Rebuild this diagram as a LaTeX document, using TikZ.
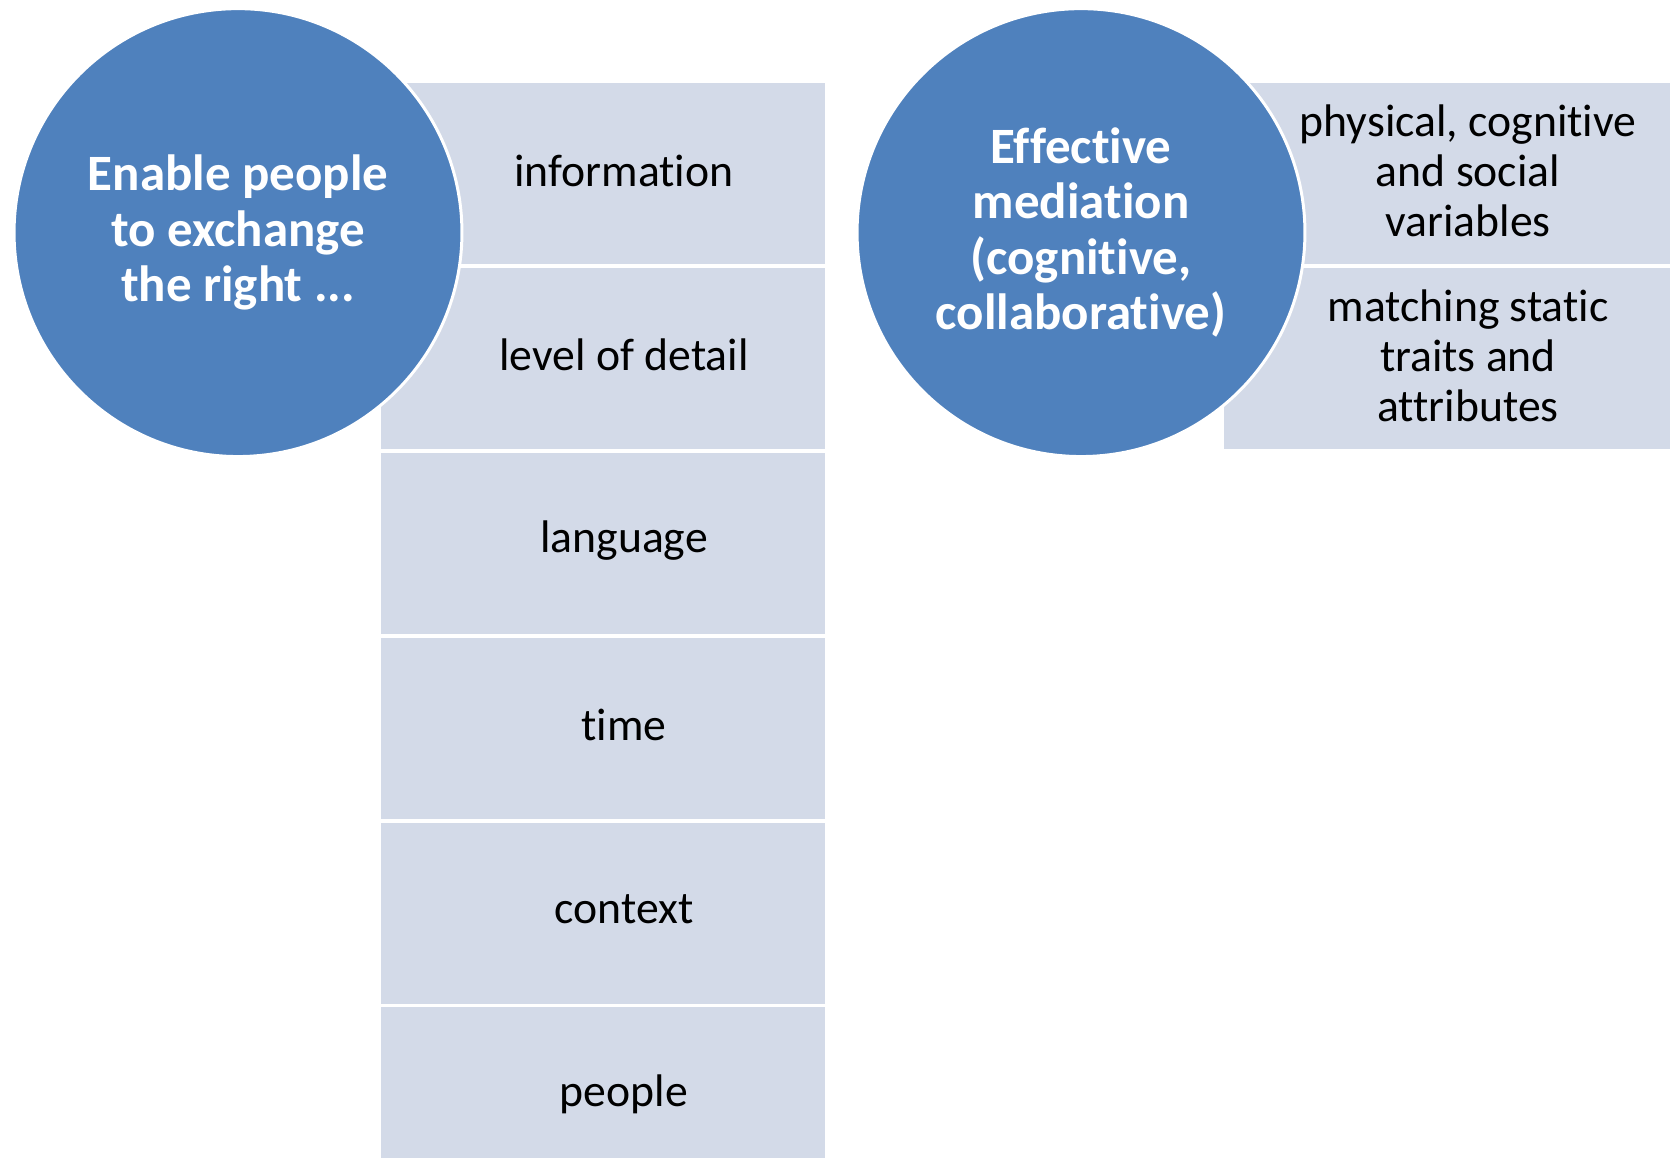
\documentclass[tikz,border=0pt]{standalone}
\usepackage{fontspec}
\setmainfont[Renderer=HarfBuzz,RawFeature={-liga;-clig;-dlig;-calt;-rlig}]{Carlito}
\usetikzlibrary{positioning}
\definecolor{hubblue}{HTML}{4F81BD}
\definecolor{cellpale}{HTML}{D3DAE8}

\begin{document}
\begin{tikzpicture}[x=0.02cm, y=-0.02cm,
  hub/.style={circle, fill=hubblue, draw=white, line width=1.7pt, minimum size=8.96cm, inner sep=0pt, align=center, text=white, font=\fontsize{29}{31.6}\selectfont\bfseries},
  cell/.style={rectangle, fill=cellpale, minimum width=8.88cm, minimum height=3.62cm, inner sep=0pt, anchor=north west},
  cellw/.style={cell, minimum width=8.92cm},
  txt/.style={align=center, font=\fontsize{26}{28.5}\selectfont},
]
  \useasboundingbox (0,0) rectangle (1673,1158);

  % left column
  \node[cell] (info)   at (381,83)    {};
  \node[cell] (detail) at (381,267.8) {};
  \node[cell] (lang)   at (381,452.6) {};
  \node[cell] (time)   at (381,637.4) {};
  \node[cell] (ctx)    at (381,822.2) {};
  \node[cell] (ppl)    at (381,1007)  {};

  \node[txt] (infoT)   at (624,170.5)  {information};
  \node[txt] (detailT) at (624,355.3)  {level of detail};
  \node[txt] (langT)   at (624,540.1)  {language};
  \node[txt] (timeT)   at (624,724.9)  {time};
  \node[txt] (ctxT)    at (624,909.7)  {context};
  \node[txt] (pplT)    at (624,1094.5) {people};

  % right column
  \node[cellw] (phys)  at (1224,83)    {};
  \node[cellw] (match) at (1224,267.8) {};

  \node[txt] (physT)  at (1468,171) {physical, cognitive\\and social\\variables};
  \node[txt] (matchT) at (1468,356) {matching static\\traits and\\attributes};

  % circles on top
  \node[hub] (enable) at (238,232.6)  {Enable people\\to exchange\\the right ...};
  \node[hub] (medi)   at (1081,232.6) {Effective\\mediation\\(cognitive,\\collaborative)};
\end{tikzpicture}
\end{document}
